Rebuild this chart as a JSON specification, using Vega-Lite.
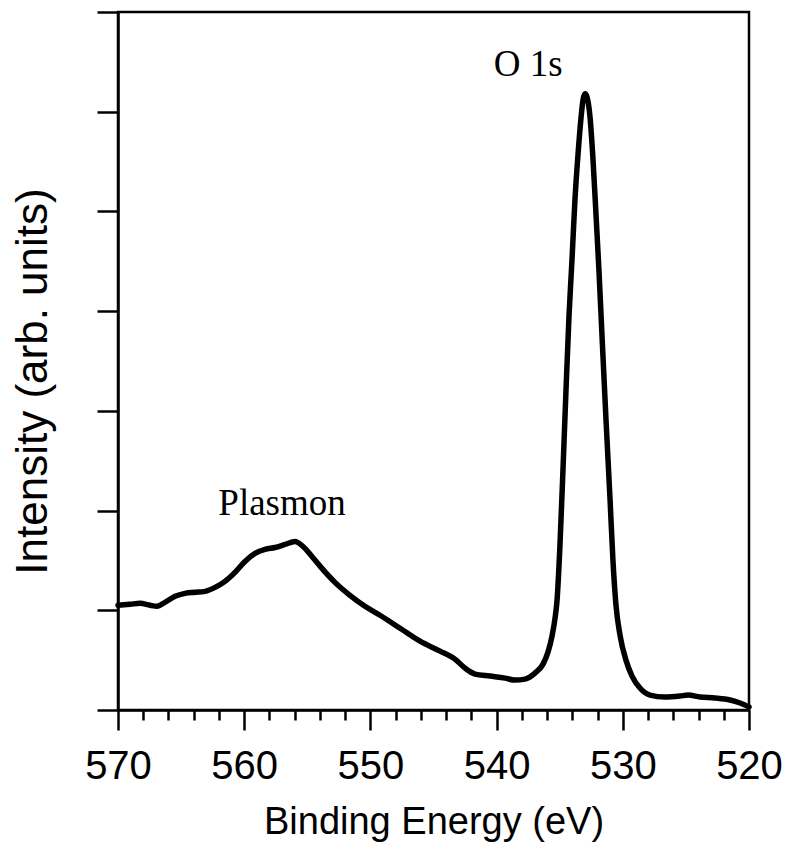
{
  "$schema": "https://vega.github.io/schema/vega-lite/v6.json",
  "width": 631,
  "height": 698,
  "autosize": "none",
  "padding": {"left": 118, "top": 12, "right": 37, "bottom": 132},
  "background": "white",
  "config": {
    "view": {"stroke": "black", "strokeWidth": 2.5},
    "axis": {"grid": false, "domainColor": "black", "domainWidth": 2.5, "tickColor": "black", "tickWidth": 2.5, "labelColor": "black", "titleColor": "black", "labelFont": "Liberation Sans", "titleFont": "Liberation Sans", "titleFontWeight": "normal"}
  },
  "encoding": {
    "x": {
      "field": "E", "type": "quantitative",
      "scale": {"domain": [520, 570], "reverse": true, "nice": false, "zero": false},
      "axis": {
        "title": "Binding Energy (eV)",
        "titleFontSize": 38, "titleX": 315.5, "titleY": 123, "titleBaseline": "alphabetic", "titleAlign": "center",
        "values": [520,522,524,526,528,530,532,534,536,538,540,542,544,546,548,550,552,554,556,558,560,562,564,566,568,570],
        "labelExpr": "datum.value % 10 === 0 ? datum.label : ''",
        "tickSize": {"condition": {"test": "datum.value % 10 === 0", "value": 20}, "value": 10},
        "labelFontSize": 40, "labelBaseline": "alphabetic", "labelPadding": 48, "labelOverlap": false, "labelFlush": false
      }
    },
    "y": {
      "field": "I", "type": "quantitative",
      "scale": {"domain": [0, 7], "nice": false, "zero": false},
      "axis": {
        "title": "Intensity (arb. units)",
        "titleFontSize": 44, "titleX": -72, "titleY": 369, "titleBaseline": "alphabetic", "titleAlign": "center", "titleAngle": -90,
        "values": [0,1,2,3,4,5,6,7],
        "labels": false, "tickSize": 21
      }
    }
  },
  "layer": [
    {
      "data": {"values": [
        {"E":570.00,"I":1.05},{"E":569.05,"I":1.06},{"E":568.26,"I":1.07},{"E":567.46,"I":1.05},{"E":566.91,"I":1.04},
        {"E":566.28,"I":1.08},{"E":565.48,"I":1.14},{"E":564.69,"I":1.17},{"E":563.90,"I":1.18},{"E":563.11,"I":1.19},
        {"E":562.31,"I":1.23},{"E":561.52,"I":1.29},{"E":560.73,"I":1.38},{"E":559.94,"I":1.49},{"E":559.14,"I":1.57},
        {"E":558.35,"I":1.61},{"E":557.56,"I":1.63},{"E":556.77,"I":1.66},{"E":555.97,"I":1.69},{"E":555.34,"I":1.64},
        {"E":554.63,"I":1.54},{"E":553.84,"I":1.42},{"E":552.81,"I":1.28},{"E":551.62,"I":1.15},{"E":550.43,"I":1.04},
        {"E":549.24,"I":0.95},{"E":547.65,"I":0.82},{"E":546.07,"I":0.69},{"E":544.48,"I":0.59},{"E":543.30,"I":0.51},
        {"E":542.50,"I":0.42},{"E":541.71,"I":0.36},{"E":540.52,"I":0.34},{"E":539.33,"I":0.32},{"E":538.54,"I":0.30},
        {"E":537.75,"I":0.31},{"E":536.96,"I":0.37},{"E":536.32,"I":0.46},{"E":535.93,"I":0.58},{"E":535.61,"I":0.74},
        {"E":535.37,"I":0.92},{"E":535.21,"I":1.10},{"E":534.98,"I":1.65},{"E":534.74,"I":2.41},{"E":534.50,"I":3.21},
        {"E":534.26,"I":3.96},{"E":534.02,"I":4.53},{"E":533.79,"I":5.12},{"E":533.55,"I":5.57},{"E":533.31,"I":5.94},
        {"E":533.15,"I":6.12},{"E":532.99,"I":6.18},{"E":532.84,"I":6.15},{"E":532.60,"I":5.95},{"E":532.36,"I":5.52},
        {"E":532.12,"I":4.96},{"E":531.89,"I":4.41},{"E":531.65,"I":3.76},{"E":531.33,"I":2.91},{"E":531.01,"I":2.11},
        {"E":530.78,"I":1.50},{"E":530.54,"I":1.05},{"E":530.22,"I":0.75},{"E":529.75,"I":0.50},{"E":529.27,"I":0.34},
        {"E":528.64,"I":0.22},{"E":527.85,"I":0.15},{"E":526.66,"I":0.13},{"E":525.47,"I":0.14},{"E":524.83,"I":0.15},
        {"E":523.88,"I":0.13},{"E":522.69,"I":0.12},{"E":521.50,"I":0.10},{"E":520.71,"I":0.07},{"E":520.00,"I":0.03}
      ]},
      "mark": {"type": "line", "color": "black", "strokeWidth": 5.5, "interpolate": "monotone", "strokeCap": "round", "strokeJoin": "round"}
    },
    {
      "data": {"values": [
        {"E": 537.5, "I": 6.36, "label": "O 1s"},
        {"E": 557.0, "I": 1.96, "label": "Plasmon"}
      ]},
      "mark": {"type": "text", "font": "Liberation Serif", "fontSize": 37, "color": "black", "align": "center", "baseline": "alphabetic"},
      "encoding": {"text": {"field": "label"}}
    }
  ]
}
